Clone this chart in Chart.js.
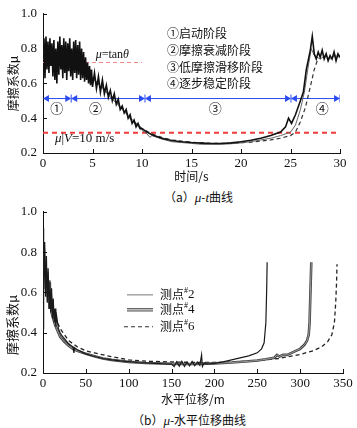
<!DOCTYPE html>
<html><head><meta charset="utf-8">
<script src="https://cdn.jsdelivr.net/npm/chart.js@4.4.1/dist/chart.umd.min.js"></script>
<style>
html,body{margin:0;padding:0;background:#fff;width:357px;height:428px;overflow:hidden;}
#wa{position:absolute;left:0;top:0;width:357px;height:186px;}
#wb{position:absolute;left:0;top:198px;width:357px;height:211px;}
.cap{position:absolute;font:12px "Noto Sans CJK SC";color:#111;white-space:nowrap;line-height:14px;}
.cap i{font-family:"Liberation Serif";font-size:13px;}
</style></head><body>
<div id="wa"><canvas id="ca"></canvas></div>
<div class="cap" style="left:164px;top:190px">（a）<i>μ</i>-<i>t</i>曲线</div>
<div id="wb"><canvas id="cb"></canvas></div>
<div class="cap" style="left:132px;top:413px">（b）<i>μ</i>-水平位移曲线</div>
<script>
// ---------- Chart (a): mu - t ----------
const tA1=[0,0.1,0.2,0.3,0.4,0.5,0.6,0.7,0.8,0.9,1.0,1.1,1.2,1.3,1.4,1.5,1.6,1.7,1.8,1.9,2.0,2.1,2.2,2.3,2.4,2.5,2.6,2.7,2.8,2.9,3.0,3.1,3.2,3.3,3.4,3.5,3.6,3.7,3.8,3.9,4.0,4.1,4.2,4.3,4.4,4.5,4.6,4.7,4.8,4.9,5.0,5.2,5.4,5.6,5.8,6.0,6.2,6.4,6.6,6.8,7.0,7.2,7.4,7.6,7.8,8.0,8.2,8.4,8.6,8.8,9.0,9.2,9.4,9.6,9.8,10.0,10.5,11,12,13,14,15,16,17,18,19,20,21,22,23,24,24.5,24.8,25.1,25.5,26,26.3,26.6,27,27.2,27.4,27.6,27.8,28.0,28.2,28.4,28.6,28.8,29.0,29.2,29.4,29.6,29.8,30.0];
const muA1=[0.75,0.86,0.63,0.87,0.68,0.84,0.66,0.86,0.70,0.83,0.64,0.85,0.62,0.80,0.60,0.84,0.65,0.87,0.68,0.82,0.63,0.86,0.66,0.84,0.62,0.83,0.67,0.86,0.64,0.80,0.62,0.84,0.66,0.85,0.63,0.82,0.65,0.84,0.62,0.80,0.63,0.78,0.61,0.75,0.62,0.72,0.60,0.70,0.59,0.68,0.58,0.66,0.57,0.64,0.55,0.62,0.54,0.59,0.52,0.56,0.50,0.54,0.48,0.51,0.45,0.47,0.43,0.45,0.40,0.42,0.37,0.39,0.35,0.37,0.34,0.34,0.32,0.305,0.285,0.272,0.265,0.26,0.257,0.255,0.255,0.258,0.265,0.273,0.285,0.30,0.32,0.35,0.40,0.37,0.42,0.50,0.55,0.68,0.79,0.87,0.77,0.74,0.78,0.75,0.79,0.74,0.77,0.73,0.76,0.74,0.78,0.73,0.77,0.75];
const tA2=[0,0.25,0.5,0.75,1,1.25,1.5,1.75,2,2.25,2.5,2.75,3,3.25,3.5,3.75,4,4.5,5,5.5,6,6.5,7,7.5,8,8.5,9,9.5,10,10.5,10.8,11,12,13,14,15,16,17,18,19,20,21,22,23,24,25,25.5,26,26.4,26.8,27.1,27.4,28,28.5,29,29.5,30];
const muA2=[0.80,0.72,0.82,0.70,0.80,0.68,0.78,0.70,0.80,0.69,0.79,0.68,0.77,0.67,0.76,0.66,0.73,0.68,0.63,0.60,0.57,0.54,0.51,0.48,0.45,0.42,0.38,0.36,0.33,0.31,0.29,0.30,0.28,0.265,0.26,0.255,0.25,0.25,0.25,0.253,0.258,0.265,0.275,0.285,0.30,0.32,0.36,0.45,0.55,0.70,0.80,0.76,0.74,0.76,0.74,0.76,0.75];
const tA3=[0,1,2,3,4,5,6,7,8,9,10,11,12,13,15,17,19,21,23,24,25,25.5,26,26.5,27,27.4,27.7];
const muA3=[0.74,0.76,0.75,0.73,0.70,0.63,0.58,0.52,0.46,0.39,0.34,0.31,0.29,0.275,0.262,0.255,0.255,0.262,0.275,0.285,0.30,0.32,0.38,0.46,0.58,0.68,0.73];
const xTicksA=[0,5,10,15,20,25,30];
const yTicks=[0.2,0.4,0.6,0.8,1.0];
const muTanTheta=0.72, tanThetaEnd=10;
const muV10=0.317;
const stageY=0.513;
const stageStart=[0.4,3.25,10.7,25.45];
const stageEnd=[2.45,9.9,24.65,29.6];
const stageBars=[2.85,10.3,25.05,30];
const stageMarks=['①','②','③','④'];
const stageMarkT=[1.4,5.3,17.4,28.2];
const stageNames=['①启动阶段','②摩擦衰减阶段','③低摩擦滑移阶段','④逐步稳定阶段'];

// ---------- Chart (b): mu - horizontal displacement ----------
const dB1=[0,0.5,1,2,3,4,5,6,7,8,9,10,11,12,13,14,15,16,18,20,22,25,28,30,33,35,36,37,40,45,50,55,60,70,80,90,100,110,120,130,140,150,153,156,159,162,165,168,171,174,177,180,183,185,186,188,190,195,200,210,220,230,240,250,255,258,260,261,261.5];
const muB1=[0.42,0.92,0.60,0.85,0.58,0.78,0.55,0.72,0.52,0.66,0.50,0.62,0.47,0.57,0.45,0.52,0.43,0.48,0.42,0.40,0.385,0.37,0.355,0.345,0.335,0.33,0.30,0.325,0.315,0.305,0.295,0.288,0.282,0.272,0.265,0.26,0.256,0.252,0.25,0.248,0.246,0.244,0.232,0.256,0.234,0.258,0.232,0.255,0.235,0.257,0.236,0.254,0.238,0.29,0.232,0.25,0.245,0.246,0.248,0.255,0.265,0.275,0.285,0.30,0.32,0.35,0.45,0.62,0.75];
const dB2=[0,1,2,3,4,5,6,7,8,9,10,12,14,16,18,20,25,30,35,40,50,60,70,80,100,120,140,160,180,200,220,240,250,260,270,273,276,280,285,290,295,300,305,308,310,311,312,313];
const muB2=[0.70,0.82,0.62,0.76,0.58,0.70,0.55,0.65,0.52,0.60,0.50,0.47,0.44,0.42,0.40,0.38,0.355,0.335,0.32,0.31,0.295,0.283,0.272,0.265,0.255,0.25,0.247,0.245,0.245,0.248,0.252,0.258,0.262,0.268,0.276,0.29,0.282,0.29,0.29,0.30,0.31,0.32,0.34,0.36,0.39,0.45,0.60,0.75];
const dB3=[0,2,4,6,8,10,12,15,18,20,25,30,35,40,50,60,75,100,125,150,175,200,225,250,275,300,315,325,332,337,340,341.5,342.5,343];
const muB3=[0.75,0.70,0.66,0.62,0.58,0.54,0.50,0.46,0.44,0.42,0.39,0.36,0.345,0.33,0.31,0.30,0.285,0.265,0.258,0.255,0.252,0.252,0.255,0.262,0.272,0.292,0.31,0.33,0.355,0.39,0.45,0.55,0.65,0.74];
const xTicksB=[0,50,100,150,200,250,300,350];
const seriesNamesB=['2','4','6'];

// ---------- helpers ----------
const SERIF='"Liberation Serif", "DejaVu Serif", serif';
const CJK='"Noto Sans CJK SC", sans-serif';
const pts=(xs,ys)=>xs.map((x,i)=>({x:x,y:ys[i]}));
function lineDs(xs,ys,color,w,dash){return {data:pts(xs,ys),borderColor:color,borderWidth:w,borderDash:dash||[],pointRadius:0,fill:false,tension:0};}

const inTicks={id:'inTicks',afterDraw(chart){
  const ctx=chart.ctx,xs=chart.scales.x,ys=chart.scales.y;
  ctx.save();ctx.strokeStyle='#111';ctx.lineWidth=1;
  xs.ticks.forEach(t=>{const p=Math.round(xs.getPixelForValue(t.value))+0.5;ctx.beginPath();ctx.moveTo(p,xs.top);ctx.lineTo(p,xs.top-4);ctx.stroke();});
  ys.ticks.forEach(t=>{const p=Math.round(ys.getPixelForValue(t.value))+0.5;ctx.beginPath();ctx.moveTo(ys.right,p);ctx.lineTo(ys.right+4,p);ctx.stroke();});
  ctx.restore();}};

function drawRich(ctx,parts,x,y,align){
  let w=0;parts.forEach(p=>{ctx.font=p[1];w+=ctx.measureText(p[0]).width;});
  let cx=align==='center'?x-w/2:x;
  ctx.textBaseline='middle';ctx.textAlign='left';
  parts.forEach(p=>{ctx.font=p[1];ctx.fillText(p[0],cx,y+(p[2]||0));cx+=ctx.measureText(p[0]).width;});
}

function axes(xmin,xmax,xt,xtitle,yTitle,xH,yTitlePadTop,yTitleSize){
  const tickFont={family:SERIF,size:13};
  return {
    x:{type:'linear',min:xmin,max:xmax,
      afterBuildTicks:s=>{s.ticks=xt.map(v=>({value:v}));},
      afterFit:s=>{s.height=xH;},
      ticks:{font:tickFont,color:'#111',padding:3,maxRotation:0,autoSkip:false,callback:v=>String(v)},
      grid:{display:true,drawOnChartArea:false,drawTicks:false},
      border:{display:true,color:'#111',width:1},
      title:{display:true,text:xtitle,color:'#111',font:{family:CJK,size:12},padding:{top:0,bottom:2}}},
    y:{type:'linear',min:0.2,max:1.0,
      afterBuildTicks:s=>{s.ticks=yTicks.map(v=>({value:v}));},
      afterFit:s=>{s.width=43;},
      ticks:{font:tickFont,color:'#111',padding:6,autoSkip:false,callback:v=>v.toFixed(1)},
      grid:{display:true,drawOnChartArea:false,drawTicks:false},
      border:{display:true,color:'#111',width:1},
      title:{display:true,text:yTitle,color:'#111',font:{family:CJK,size:yTitleSize},padding:{top:yTitlePadTop,bottom:0}}}
  };
}

// ---------- chart a ----------
const annA={id:'annA',afterDraw(chart){
  const ctx=chart.ctx,xs=chart.scales.x,ys=chart.scales.y,ca=chart.chartArea;
  ctx.save();ctx.fillStyle='#111';
  const it='italic 12px '+SERIF,nm='12px '+SERIF;
  drawRich(ctx,[['μ',it],['=tan',nm],['θ',it]],xs.getPixelForValue(7.0),ys.getPixelForValue(0.765),'center');
  const it2='italic 13px '+SERIF,nm2='13px '+SERIF;
  drawRich(ctx,[['μ',it2],['|',nm2],['V',it2],['=10 m/s',nm2]],xs.getPixelForValue(1.2),ys.getPixelForValue(0.284),'left');
  ctx.font='13px '+CJK;ctx.textAlign='center';ctx.textBaseline='middle';
  stageMarks.forEach((m,i)=>ctx.fillText(m,xs.getPixelForValue(stageMarkT[i]),ys.getPixelForValue(0.457)));
  ctx.font='12px '+CJK;ctx.textAlign='left';
  stageNames.forEach((s,i)=>ctx.fillText(s,ca.left+124,ca.top+20+i*16.7));
  ctx.restore();}};

const dsA=[
  lineDs(tA1,muA1,'#111',1.6),
  lineDs(tA2,muA2,'#666',1),
  lineDs(tA3,muA3,'#333',1.2,[4,3]),
  lineDs([0,tanThetaEnd],[muTanTheta,muTanTheta],'#f08a86',1.2,[4,3]),
  lineDs([0,30],[muV10,muV10],'#f03a3a',2,[5,4])
];
stageStart.forEach((s,i)=>{
  dsA.push({data:pts([s,stageEnd[i]],[stageY,stageY]),borderColor:'#2c4cf0',backgroundColor:'#2c4cf0',borderWidth:1,
    pointStyle:'triangle',pointRadius:4,pointRotation:[270,90],pointBorderWidth:0,fill:false});
});
dsA.push({data:pts(stageBars,stageBars.map(()=>stageY)),showLine:false,pointStyle:'line',pointRotation:90,pointRadius:4,
  borderColor:'#2c4cf0',pointBorderColor:'#2c4cf0',pointBorderWidth:1});

new Chart(document.getElementById('ca'),{type:'line',data:{datasets:dsA},
  options:{responsive:true,maintainAspectRatio:false,animation:false,devicePixelRatio:1,
    layout:{padding:{left:0,right:17,top:10,bottom:0}},
    plugins:{legend:{display:false},tooltip:{enabled:false}},
    scales:axes(0,30,xTicksA,'时间/s','摩擦系数μ',33,6,12)},
  plugins:[inTicks,annA]});

// ---------- chart b ----------
const legB={id:'legB',afterDraw(chart){
  const ctx=chart.ctx,ca=chart.chartArea;ctx.save();
  const x0=ca.left+84,x1=ca.left+110,tx=ca.left+117;
  const rows=[ca.top+83,ca.top+98,ca.top+115];
  ctx.lineCap='butt';
  ctx.strokeStyle='#aaa';ctx.lineWidth=1.6;ctx.beginPath();ctx.moveTo(x0,rows[0]);ctx.lineTo(x1,rows[0]);ctx.stroke();
  ctx.strokeStyle='#555';ctx.lineWidth=3.4;ctx.beginPath();ctx.moveTo(x0,rows[1]);ctx.lineTo(x1,rows[1]);ctx.stroke();
  ctx.strokeStyle='#ccc';ctx.lineWidth=1.4;ctx.beginPath();ctx.moveTo(x0,rows[1]);ctx.lineTo(x1,rows[1]);ctx.stroke();
  ctx.strokeStyle='#333';ctx.lineWidth=1.1;ctx.setLineDash([4,3]);ctx.beginPath();ctx.moveTo(x0-3,rows[2]);ctx.lineTo(x1,rows[2]);ctx.stroke();ctx.setLineDash([]);
  ctx.fillStyle='#111';
  seriesNamesB.forEach((n,i)=>drawRich(ctx,[['测点','12px '+CJK],['#','8px '+SERIF,-4],[n,'13px '+SERIF]],tx,rows[i],'left'));
  ctx.restore();}};

const dsB=[
  lineDs(dB1,muB1,'#1a1a1a',1.2),
  lineDs(dB2,muB2,'#9a9a9a',1),
  lineDs(dB2,muB2,'#444',2.6),
  lineDs(dB3,muB3,'#222',1.3,[4,3])
];
new Chart(document.getElementById('cb'),{type:'line',data:{datasets:dsB},
  options:{responsive:true,maintainAspectRatio:false,animation:false,devicePixelRatio:1,
    layout:{padding:{left:0,right:14,top:7,bottom:0}},
    plugins:{legend:{display:false},tooltip:{enabled:false}},
    scales:axes(0,350,xTicksB,'水平位移/m','摩擦系数μ　　　　　',36,4,13)},
  plugins:[inTicks,legB]});
</script>
</body></html>
